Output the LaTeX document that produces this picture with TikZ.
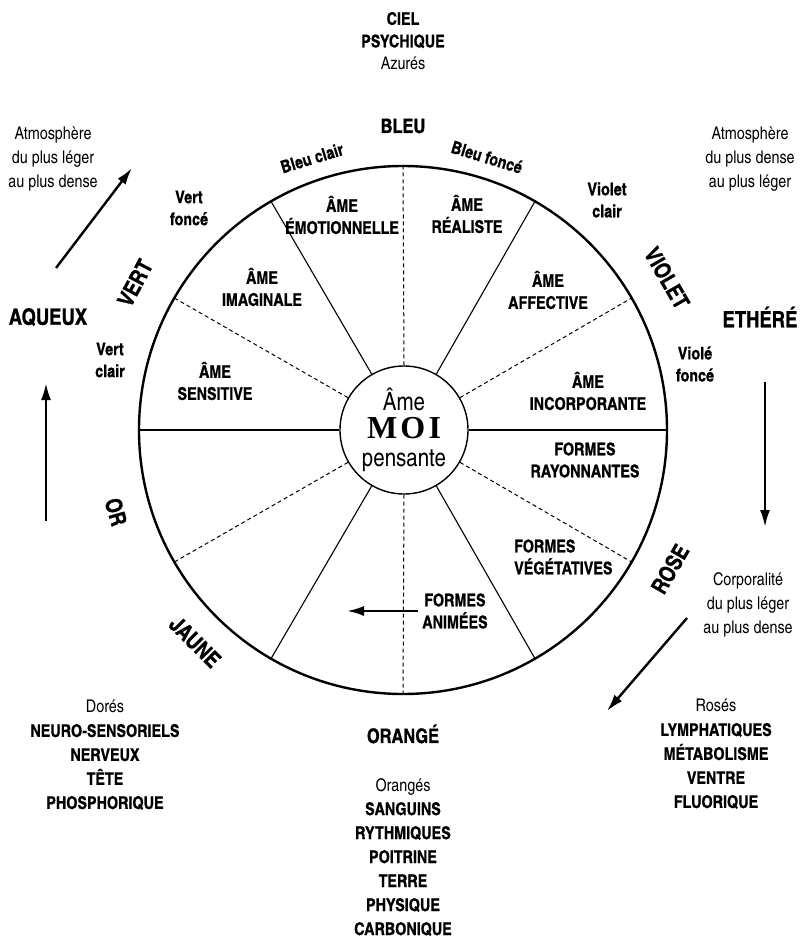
\documentclass[tikz,border=0pt]{standalone}
\usepackage{fontspec}
\setmainfont{texgyreheroscn}[Extension=.otf, UprightFont=*-regular, BoldFont=*-bold, BoldFeatures={FakeBold=0.8}]
\newfontfamily\moifont{Liberation Serif}[LetterSpace=10]
\usetikzlibrary{arrows.meta}

\tikzset{
  lbl/.style={font=\fontsize{17.5}{22}\selectfont\bfseries, align=center, inner sep=0pt},
  txt/.style={font=\fontsize{17.5}{24}\selectfont, align=center, inner sep=0pt},
  titre/.style={font=\fontsize{20}{24}\selectfont\bfseries, inner sep=0pt},
  gros/.style={font=\fontsize{22.5}{26}\selectfont\bfseries, inner sep=0pt},
  rayon/.style={line width=1.1pt},
  pointille/.style={line width=1pt, dash pattern=on 4pt off 3pt},
  fleche/.style={-{Latex[length=17pt,width=10pt]}, line width=2.4pt},
}

\begin{document}
\begin{tikzpicture}[x=1pt,y=-1pt]
\useasboundingbox (0,0) rectangle (808,937);

%% roue et centre
\node[draw, circle, line width=2.4pt, minimum size=528pt, inner sep=0pt] (roue) at (403,430) {};
\node[draw, circle, fill=white, line width=1.4pt, minimum size=128pt, inner sep=0pt, align=center,
      font=\fontsize{25}{28}\selectfont] (moi) at (404,430)
      {Âme\\{\moifont\bfseries\fontsize{32}{28}\selectfont MOI}\\pensante};


%% rayons
\draw[rayon] (moi.0) -- (roue.0);         %% incorporante / rayonnantes
\draw[rayon] (moi.60) -- (roue.60);       %% realiste / affective
\draw[rayon] (moi.120) -- (roue.120);     %% emotionnelle / imaginale
\draw[rayon] (moi.180) -- (roue.180);     %% sensitive / or
\draw[rayon] (moi.240) -- (roue.240);     %% jaune / animees
\draw[rayon] (moi.300) -- (roue.300);     %% animees / vegetatives
\draw[pointille] (moi.30) -- (roue.30);
\draw[pointille] (moi.90) -- (roue.90);
\draw[pointille] (moi.150) -- (roue.150);
\draw[pointille] (moi.210) -- (roue.210);
\draw[pointille] (moi.270) -- (roue.270);
\draw[pointille] (moi.330) -- (roue.330);


%% secteurs
\node[lbl] (emotion) at (342,215) {ÂME\\ÉMOTIONNELLE};
\node[lbl] (realiste) at (467,214) {ÂME\\RÉALISTE};
\node[lbl] (imagin) at (262,287) {ÂME\\IMAGINALE};
\node[lbl] (affect) at (548,290) {ÂME\\AFFECTIVE};
\node[lbl] (sensit) at (215,381) {ÂME\\SENSITIVE};
\node[lbl] (incorp) at (588,391) {ÂME\\INCORPORANTE};
\node[lbl] (rayonn) at (585,460) {FORMES\\RAYONNANTES};
\node[lbl, align=left, anchor=west] (veget) at (514,557) {FORMES\\VÉGÉTATIVES};
\node[lbl] (animees) at (455,611) {FORMES\\ANIMÉES};


%% couleurs autour de la roue
\node[titre] (bleu) at (403,126) {BLEU};
\node[lbl, rotate=17] (bleuclair) at (312,158) {Bleu clair};
\node[lbl, rotate=-17] (bleufonce) at (487,157) {Bleu foncé};
\node[lbl] (vertfonce) at (189,208) {Vert\\foncé};
\node[lbl] (violetclair) at (607,200) {Violet\\clair};
\node[gros, rotate=62] (vert) at (135,283) {VERT};
\node[gros, rotate=-60] (violet) at (667,278) {VIOLET};
\node[lbl] (vertclair) at (110,360) {Vert\\clair};
\node[lbl] (violefonce) at (695,364) {Violé\\foncé};
\node[gros, rotate=-74] (or) at (116,512) {OR};
\node[gros, rotate=-45] (jaune) at (195,642) {JAUNE};
\node[gros, rotate=60] (rose) at (670,569) {ROSE};
\node[titre] (orange) at (403,734) {ORANGÉ};


%% cotes
\node[gros] (aqueux) at (48,317) {AQUEUX};
\node[gros] (ethere) at (760,317) {ETHÉRÉ};
\node[txt] (atmoA) at (53,159) {Atmosphère\\du plus léger\\au plus dense};
\node[txt] (atmoB) at (750,159) {Atmosphère\\du plus dense\\au plus léger};
\node[txt] (corpo) at (748,605) {Corporalité\\du plus léger\\au plus dense};


%% blocs du haut et du bas
\node[txt, font=\fontsize{17.5}{22.5}\selectfont] (ciel) at (403,41) {\bfseries CIEL\\\bfseries PSYCHIQUE\\Azurés};
\node[txt] (dores) at (105,755) {Dorés\\\bfseries NEURO-SENSORIELS\\\bfseries NERVEUX\\\bfseries TÊTE\\\bfseries PHOSPHORIQUE};
\node[txt] (oranges) at (403,857) {Orangés\\\bfseries SANGUINS\\\bfseries RYTHMIQUES\\\bfseries POITRINE\\\bfseries TERRE\\\bfseries PHYSIQUE\\\bfseries CARBONIQUE};
\node[txt] (roses) at (716,754) {Rosés\\\bfseries LYMPHATIQUES\\\bfseries MÉTABOLISME\\\bfseries VENTRE\\\bfseries FLUORIQUE};


%% fleches
\coordinate (a1) at (56,268);   \coordinate (b1) at (132,168);
\coordinate (a2) at (46,521);   \coordinate (b2) at (46,383);
\coordinate (a3) at (765,382);  \coordinate (b3) at (765,527);
\coordinate (a4) at (687,618);  \coordinate (b4) at (607,711);
\coordinate (a5) at (418,611);  \coordinate (b5) at (347,611);
\draw[fleche] (a1) -- (b1);
\draw[fleche] (a2) -- (b2);
\draw[fleche] (a3) -- (b3);
\draw[fleche] (a4) -- (b4);
\draw[fleche] (a5) -- (b5);
\end{tikzpicture}
\end{document}
